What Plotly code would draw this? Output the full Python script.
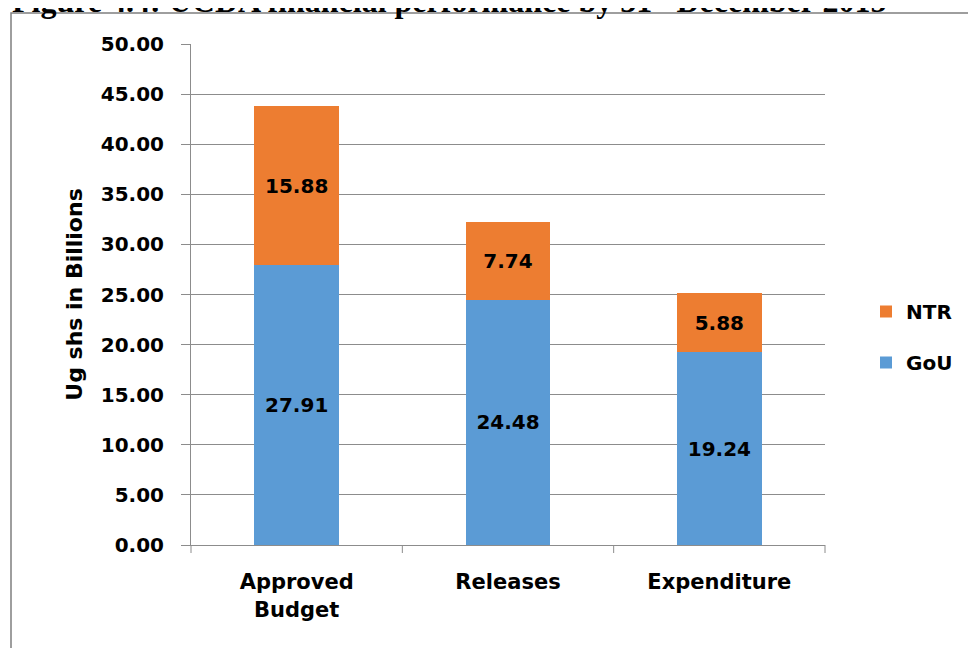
import plotly.graph_objects as go

# chart data
categories = ["Approved<br>Budget", "Releases", "Expenditure"]
gou = [27.91, 24.48, 19.24]
ntr = [15.88, 7.74, 5.88]
y_ticks = [0, 5, 10, 15, 20, 25, 30, 35, 40, 45, 50]

# the page puts the figure 8px in from the top-left corner
W, H = 968, 640
left, right, top, bottom = 183, 151, 36, 103
pw = W - left - right
ph = H - top - bottom


def px_x(x):
    return (x - left) / pw


def px_y(y):
    return (H - bottom - y) / ph


font_main = "'DejaVu Sans', sans-serif"
grid_col = "#8c8c8c"

fig = go.Figure()

fig.add_trace(go.Bar(
    x=categories, y=gou, name="GoU", legendgroup="gou", legendrank=2,
    marker=dict(color="#5B9BD5", line=dict(width=0)),
    text=[f"{v:.2f}" for v in gou],
    textposition="inside", insidetextanchor="middle",
    textfont=dict(family=font_main, size=20, color="black", weight="bold"),
    width=0.4,
))
fig.add_trace(go.Bar(
    x=categories, y=ntr, name="NTR", legendgroup="ntr", legendrank=1,
    marker=dict(color="#ED7D31", line=dict(width=0)),
    text=[f"{v:.2f}" for v in ntr],
    textposition="inside", insidetextanchor="middle",
    textfont=dict(family=font_main, size=20, color="black", weight="bold"),
    width=0.4,
))

# outer border of the chart box
fig.add_shape(type="rect", xref="paper", yref="paper",
              x0=px_x(3), x1=px_x(990), y0=px_y(5), y1=px_y(670),
              line=dict(color="#7f7f7f", width=1.5), layer="below")

# category tick marks below axis
for i in range(4):
    xp = px_x(left + i * pw / 3)
    fig.add_shape(type="line", xref="paper", yref="paper",
                  x0=xp, x1=xp, y0=0, y1=px_y(H - bottom + 8),
                  line=dict(color=grid_col, width=1))

# clipped figure title at the very top
fig.add_annotation(
    text="Figure 4.4: UCDA financial performance by 31<sup>st</sup> December 2015",
    xref="paper", yref="paper", x=px_x(2), y=px_y(13),
    xanchor="left", yanchor="bottom", showarrow=False,
    font=dict(family="'Liberation Serif', 'Times New Roman', serif", size=32,
              color="black", weight="bold"),
)

fig.update_layout(
    width=W, height=H,
    barmode="stack",
    plot_bgcolor="white", paper_bgcolor="white",
    margin=dict(l=left, r=right, t=top, b=bottom),
    font=dict(family=font_main, color="black"),
    xaxis=dict(
        showline=True, linecolor=grid_col, linewidth=1,
        ticks="", tickfont=dict(size=21, weight="bold", color="black"),
        ticklabelstandoff=18,
        showgrid=False,
    ),
    yaxis=dict(
        range=[0, 50], tickvals=y_ticks,
        ticktext=[f"{v:.2f}" for v in y_ticks],
        tickfont=dict(size=20, weight="bold", color="black"),
        showgrid=True, gridcolor=grid_col, gridwidth=1,
        showline=True, linecolor=grid_col, linewidth=1,
        ticks="outside", ticklen=9, tickcolor=grid_col,
        ticklabelstandoff=13,
        zeroline=False,
        title=dict(text="Ug shs in Billions", standoff=12,
                   font=dict(size=22, weight="bold", color="black")),
    ),
    legend=dict(
        x=px_x(858), y=px_y(284), xanchor="left", yanchor="top",
        traceorder="grouped", font=dict(size=20, weight="bold", color="black"),
        itemwidth=30, tracegroupgap=22, bgcolor="rgba(0,0,0,0)",
    ),
)

fig.write_html("out.html")
